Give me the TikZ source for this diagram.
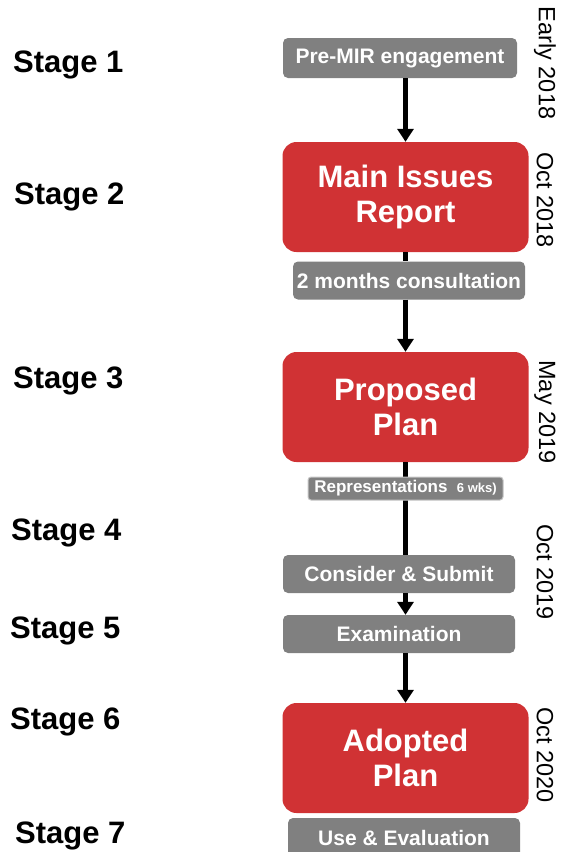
\documentclass[tikz,border=0pt]{standalone}
\usepackage{fontspec}
\setmainfont{Liberation Sans}
\usepackage{xcolor}
\usepackage{tikz}
\usetikzlibrary{arrows.meta,positioning}
\definecolor{planred}{RGB}{208,50,52}
\definecolor{stepgrey}{RGB}{128,128,128}
\tikzset{
  redbox/.style={fill=planred, rounded corners=14pt, text=white, align=center, inner sep=0pt,
    minimum width=246pt, minimum height=110pt, font=\fontsize{31}{35}\selectfont\bfseries},
  greybox/.style={fill=stepgrey, rounded corners=5pt, text=white, inner sep=0pt,
    minimum width=232pt, minimum height=38pt, font=\fontsize{21}{24}\selectfont\bfseries},
  notebox/.style={greybox, draw=gray!45, line width=1pt, rounded corners=3pt,
    minimum width=195pt, minimum height=23pt, font=\fontsize{17}{19}\selectfont\bfseries},
  stage/.style={anchor=base west, inner sep=0pt, font=\fontsize{31}{34}\selectfont\bfseries},
  date/.style={rotate=-90, inner sep=0pt, font=\fontsize{23.5}{26}\selectfont},
  arrow/.style={-{Triangle[width=16pt,length=13pt]}, line width=4.5pt},
  link/.style={line width=4.5pt}
}
\begin{document}
\begin{tikzpicture}[x=1pt, y=-1pt]
    \useasboundingbox (0,0) rectangle (560,852);

    \node[stage] (s1) at (13,72) {Stage 1};
    \node[stage] (s2) at (14,204) {Stage 2};
    \node[stage] (s3) at (13,388) {Stage 3};
    \node[stage] (s4) at (11,540) {Stage 4};
    \node[stage] (s5) at (10,638) {Stage 5};
    \node[stage] (s6) at (10,729) {Stage 6};
    \node[stage] (s7) at (15,843) {Stage 7};

    \node[greybox, minimum width=234pt, minimum height=40pt] (premir) at (400,58) {Pre-MIR engagement};
    \node[redbox] (mir) at (405.5,197) {Main Issues\\ Report};
    \node[greybox] (consult) at (409,280.5) {2 months consultation};
    \node[redbox] (proposed) at (405.5,407) {Proposed\\ Plan};
    \node[greybox] (submit) at (399,574) {Consider \& Submit};
    \node[greybox] (exam) at (399,634) {Examination};
    \node[redbox] (adopted) at (405.5,758) {Adopted\\ Plan};
    \node[greybox, minimum height=40pt] (use) at (404,838) {Use \& Evaluation};

    \draw[arrow] (premir.south -| mir.north) -- (mir.north);
    \draw[link] (mir.south) -- (mir.south |- consult.north);
    \draw[arrow] (consult.south -| proposed.north) -- (proposed.north);
    \draw[link] (proposed.south) -- (proposed.south |- submit.north);
    \draw[arrow] (submit.south -| proposed.south) -- (proposed.south |- exam.north);
    \draw[arrow] (exam.south -| adopted.north) -- (adopted.north);

    \node[notebox] (reps) at (405.5,488.5) {Representations\ \ {\fontsize{13}{15}\selectfont 6 wks)}};

    \node[date] (d1) at (545,63) {Early 2018};
    \node[date] (d2) at (545,200) {Oct 2018};
    \node[date] (d3) at (545,412) {May 2019};
    \node[date] (d4) at (545,572) {Oct 2019};
    \node[date] (d5) at (545,755) {Oct 2020};
  \end{tikzpicture}
\end{document}
